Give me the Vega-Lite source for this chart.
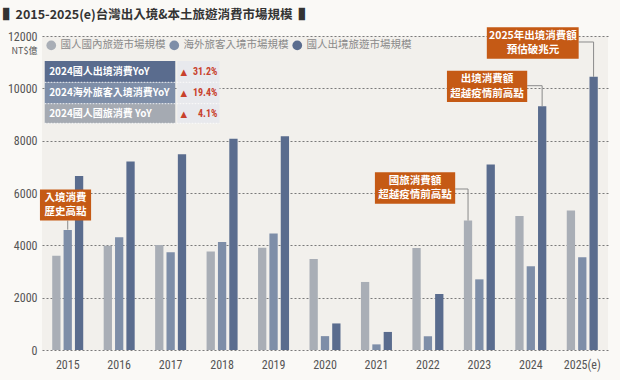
{
  "$schema": "https://vega.github.io/schema/vega-lite/v6.json",
  "width": 566,
  "height": 314,
  "autosize": "none",
  "padding": {"left": 42, "top": 36, "right": 12, "bottom": 30},
  "background": "#faf9f6",
  "config": {
    "view": {"fill": "#f2f0ec", "stroke": null},
    "font": "Noto Sans CJK TC"
  },
  "title": {
    "text": "▌2015-2025(e)台灣出入境&本土旅遊消費市場規模▐",
    "anchor": "start",
    "frame": "group",
    "dx": -39,
    "offset": 13,
    "dy": 20,
    "baseline": "bottom",
    "fontSize": 12.5,
    "fontWeight": "bold",
    "color": "#333333",
    "font": "Noto Sans CJK TC"
  },
  "datasets": {
    "bars": [
      {"year": "2015", "series": "國人國內旅遊市場規模", "value": 3600},
      {"year": "2015", "series": "海外旅客入境市場規模", "value": 4590},
      {"year": "2015", "series": "國人出境旅遊市場規模", "value": 6650},
      {"year": "2016", "series": "國人國內旅遊市場規模", "value": 3980},
      {"year": "2016", "series": "海外旅客入境市場規模", "value": 4310},
      {"year": "2016", "series": "國人出境旅遊市場規模", "value": 7200},
      {"year": "2017", "series": "國人國內旅遊市場規模", "value": 4010},
      {"year": "2017", "series": "海外旅客入境市場規模", "value": 3735},
      {"year": "2017", "series": "國人出境旅遊市場規模", "value": 7480},
      {"year": "2018", "series": "國人國內旅遊市場規模", "value": 3760},
      {"year": "2018", "series": "海外旅客入境市場規模", "value": 4130},
      {"year": "2018", "series": "國人出境旅遊市場規模", "value": 8070},
      {"year": "2019", "series": "國人國內旅遊市場規模", "value": 3910},
      {"year": "2019", "series": "海外旅客入境市場規模", "value": 4450},
      {"year": "2019", "series": "國人出境旅遊市場規模", "value": 8170},
      {"year": "2020", "series": "國人國內旅遊市場規模", "value": 3475},
      {"year": "2020", "series": "海外旅客入境市場規模", "value": 530},
      {"year": "2020", "series": "國人出境旅遊市場規模", "value": 1015},
      {"year": "2021", "series": "國人國內旅遊市場規模", "value": 2600},
      {"year": "2021", "series": "海外旅客入境市場規模", "value": 215},
      {"year": "2021", "series": "國人出境旅遊市場規模", "value": 690},
      {"year": "2022", "series": "國人國內旅遊市場規模", "value": 3900},
      {"year": "2022", "series": "海外旅客入境市場規模", "value": 525},
      {"year": "2022", "series": "國人出境旅遊市場規模", "value": 2140},
      {"year": "2023", "series": "國人國內旅遊市場規模", "value": 4945},
      {"year": "2023", "series": "海外旅客入境市場規模", "value": 2700},
      {"year": "2023", "series": "國人出境旅遊市場規模", "value": 7090},
      {"year": "2024", "series": "國人國內旅遊市場規模", "value": 5125},
      {"year": "2024", "series": "海外旅客入境市場規模", "value": 3200},
      {"year": "2024", "series": "國人出境旅遊市場規模", "value": 9316},
      {"year": "2025(e)", "series": "國人國內旅遊市場規模", "value": 5330},
      {"year": "2025(e)", "series": "海外旅客入境市場規模", "value": 3540},
      {"year": "2025(e)", "series": "國人出境旅遊市場規模", "value": 10440}
    ],
    "callouts": [
      {"label": "入境消費\n歷史高點", "x1": -0.04, "x2": 0.954, "y1": 4949, "y2": 6134, "cx": 0.457, "cy": 5541},
      {"label": "國旅消費額\n超越疫情前高點", "x1": 6.47, "x2": 8.03, "y1": 5591, "y2": 6791, "cx": 7.25, "cy": 6191},
      {"label": "出境消費額\n超越疫情前高點", "x1": 7.87, "x2": 9.43, "y1": 9478, "y2": 10674, "cx": 8.65, "cy": 10076},
      {"label": "2025年出境消費額\n預估破兆元", "x1": 8.645, "x2": 10.43, "y1": 11133, "y2": 12333, "cx": 9.54, "cy": 11733}
    ],
    "connectors": [
      {"x1": 0.5, "x2": 0.5, "y1": 4949, "y2": 4600},
      {"x1": 8.03, "x2": 8.28, "y1": 6153, "y2": 6153},
      {"x1": 8.28, "x2": 8.28, "y1": 6153, "y2": 4945},
      {"x1": 9.43, "x2": 9.72, "y1": 10101, "y2": 10101},
      {"x1": 9.72, "x2": 9.72, "y1": 10101, "y2": 9316},
      {"x1": 10.43, "x2": 10.72, "y1": 11771, "y2": 11771},
      {"x1": 10.72, "x2": 10.72, "y1": 11771, "y2": 10440}
    ],
    "table": [
      {"row": "r1", "metric": "2024國人出境消費YoY", "arrow": "▲", "chg": "31.2%", "top": 11045, "bottom": 10231, "mid": 10640},
      {"row": "r2", "metric": "2024海外旅客入境消費YoY", "arrow": "▲", "chg": "19.4%", "top": 10231, "bottom": 9413, "mid": 9822},
      {"row": "r3", "metric": "2024國人國旅消費 YoY", "arrow": "▲", "chg": "4.1%", "top": 9413, "bottom": 8664, "mid": 9038}
    ]
  },
  "resolve": {"scale": {"x": "independent", "color": "independent"}, "axis": {"x": "independent"}},
  "layer": [
    {
      "data": {"name": "bars"},
      "mark": {"type": "bar"},
      "encoding": {
        "x": {
          "field": "year", "type": "nominal",
          "scale": {"paddingInner": 0.34, "paddingOuter": 0.17},
          "axis": {
            "title": null, "labelAngle": 0, "domain": false, "ticks": false,
            "labelPadding": 9, "labelFontSize": 12, "labelColor": "#555555",
            "labelFont": "Roboto Condensed, DejaVu Sans Condensed, Roboto, sans-serif", "grid": false
          }
        },
        "xOffset": {
          "field": "series", "type": "nominal",
          "sort": ["國人國內旅遊市場規模", "海外旅客入境市場規模", "國人出境旅遊市場規模"],
          "scale": {"paddingInner": 0.27, "paddingOuter": 0.13}
        },
        "y": {
          "field": "value", "type": "quantitative",
          "scale": {"domain": [0, 12000], "nice": false},
          "axis": {
            "values": [0, 2000, 4000, 6000, 8000, 10000, 12000],
            "format": "d",
            "domain": false, "ticks": false, "labelPadding": 5,
            "labelFontSize": 12, "labelColor": "#555555", "labelFont": "Roboto Condensed, DejaVu Sans Condensed, Roboto, sans-serif",
            "gridColor": "#7a7a7a", "gridDash": [2, 2], "gridWidth": 1.2,
            "title": "NT$億", "titleAngle": 0, "titleAlign": "right", "titleBaseline": "middle",
            "titleX": -5, "titleY": 14, "titleFontSize": 9, "titleFontWeight": "normal",
            "titleColor": "#555555", "titleFont": "Noto Sans CJK TC"
          }
        },
        "color": {
          "field": "series", "type": "nominal",
          "scale": {
            "domain": ["國人國內旅遊市場規模", "海外旅客入境市場規模", "國人出境旅遊市場規模"],
            "range": ["#a9aeb6", "#7e8ea8", "#5a6c8e"]
          },
          "legend": {
            "title": null, "orient": "none", "legendX": 4, "legendY": 4,
            "direction": "horizontal", "columns": 3,
            "symbolType": "circle", "symbolSize": 95, "symbolStrokeWidth": 0,
            "labelFontSize": 10.5, "labelColor": "#8a8a8a", "labelOffset": 4,
            "columnPadding": 3, "labelFont": "Noto Sans CJK TC", "labelLimit": 200
          }
        }
      }
    },
    {
      "layer": [
        {
          "data": {"name": "connectors"},
          "mark": {"type": "rule", "color": "#8a8a8a", "strokeWidth": 1},
          "encoding": {
            "x": {"field": "x1", "type": "quantitative", "scale": {"domain": [0, 11], "nice": false, "zero": false}, "axis": null},
            "x2": {"field": "x2"},
            "y": {"field": "y1", "type": "quantitative", "scale": {"domain": [0, 12000], "nice": false}},
            "y2": {"field": "y2"}
          }
        },
        {
          "data": {"name": "callouts"},
          "mark": {"type": "rect", "color": "#c55a15"},
          "encoding": {
            "x": {"field": "x1", "type": "quantitative", "scale": {"domain": [0, 11], "nice": false, "zero": false}, "axis": null},
            "x2": {"field": "x2"},
            "y": {"field": "y1", "type": "quantitative", "scale": {"domain": [0, 12000], "nice": false}},
            "y2": {"field": "y2"}
          }
        },
        {
          "data": {"name": "callouts"},
          "mark": {"type": "text", "color": "#ffffff", "fontSize": 10.5, "fontWeight": "bold", "lineBreak": "\n", "lineHeight": 14.5, "dy": -7.2, "align": "center", "baseline": "middle", "font": "Noto Sans CJK TC"},
          "encoding": {
            "x": {"field": "cx", "type": "quantitative", "scale": {"domain": [0, 11], "nice": false, "zero": false}, "axis": null},
            "y": {"field": "cy", "type": "quantitative", "scale": {"domain": [0, 12000], "nice": false}},
            "text": {"field": "label"}
          }
        },
        {
          "data": {"name": "table"},
          "mark": {"type": "rect"},
          "encoding": {
            "x": {"datum": 0.053, "type": "quantitative", "scale": {"domain": [0, 11], "nice": false, "zero": false}, "axis": null},
            "x2": {"datum": 2.59},
            "y": {"field": "top", "type": "quantitative", "scale": {"domain": [0, 12000], "nice": false}},
            "y2": {"field": "bottom"},
            "color": {"field": "row", "type": "nominal", "scale": {"domain": ["r1", "r2", "r3"], "range": ["#5a6c8e", "#7e8ea8", "#a5aab2"]}, "legend": null}
          }
        },
        {
          "data": {"name": "table"},
          "mark": {"type": "rect", "color": "#e8e9ed"},
          "encoding": {
            "x": {"datum": 2.63, "type": "quantitative", "scale": {"domain": [0, 11], "nice": false, "zero": false}, "axis": null},
            "x2": {"datum": 3.45},
            "y": {"field": "top", "type": "quantitative", "scale": {"domain": [0, 12000], "nice": false}},
            "y2": {"field": "bottom"}
          }
        },
        {
          "data": {"name": "table"},
          "mark": {"type": "rule", "color": "#ffffff", "strokeDash": [1.5, 1.5], "opacity": 0.8},
          "encoding": {
            "x": {"datum": 0.053, "type": "quantitative", "scale": {"domain": [0, 11], "nice": false, "zero": false}, "axis": null},
            "x2": {"datum": 3.45},
            "y": {"field": "bottom", "type": "quantitative", "scale": {"domain": [0, 12000], "nice": false}}
          }
        },
        {
          "data": {"name": "table"},
          "mark": {"type": "text", "color": "#ffffff", "fontSize": 10, "fontWeight": "bold", "align": "left", "baseline": "middle", "font": "Noto Sans CJK TC"},
          "encoding": {
            "x": {"datum": 0.14, "type": "quantitative", "scale": {"domain": [0, 11], "nice": false, "zero": false}, "axis": null},
            "y": {"field": "mid", "type": "quantitative", "scale": {"domain": [0, 12000], "nice": false}},
            "text": {"field": "metric"}
          }
        },
        {
          "data": {"name": "table"},
          "mark": {"type": "text", "color": "#c8412c", "fontSize": 8.5, "align": "left", "baseline": "middle", "font": "DejaVu Sans"},
          "encoding": {
            "x": {"datum": 2.69, "type": "quantitative", "scale": {"domain": [0, 11], "nice": false, "zero": false}, "axis": null},
            "y": {"field": "mid", "type": "quantitative", "scale": {"domain": [0, 12000], "nice": false}},
            "text": {"field": "arrow"}
          }
        },
        {
          "data": {"name": "table"},
          "mark": {"type": "text", "color": "#c8412c", "fontSize": 10, "fontWeight": "bold", "align": "right", "baseline": "middle", "font": "Roboto Condensed, DejaVu Sans Condensed, Roboto, sans-serif"},
          "encoding": {
            "x": {"datum": 3.41, "type": "quantitative", "scale": {"domain": [0, 11], "nice": false, "zero": false}, "axis": null},
            "y": {"field": "mid", "type": "quantitative", "scale": {"domain": [0, 12000], "nice": false}},
            "text": {"field": "chg"}
          }
        }
      ]
    }
  ]
}
